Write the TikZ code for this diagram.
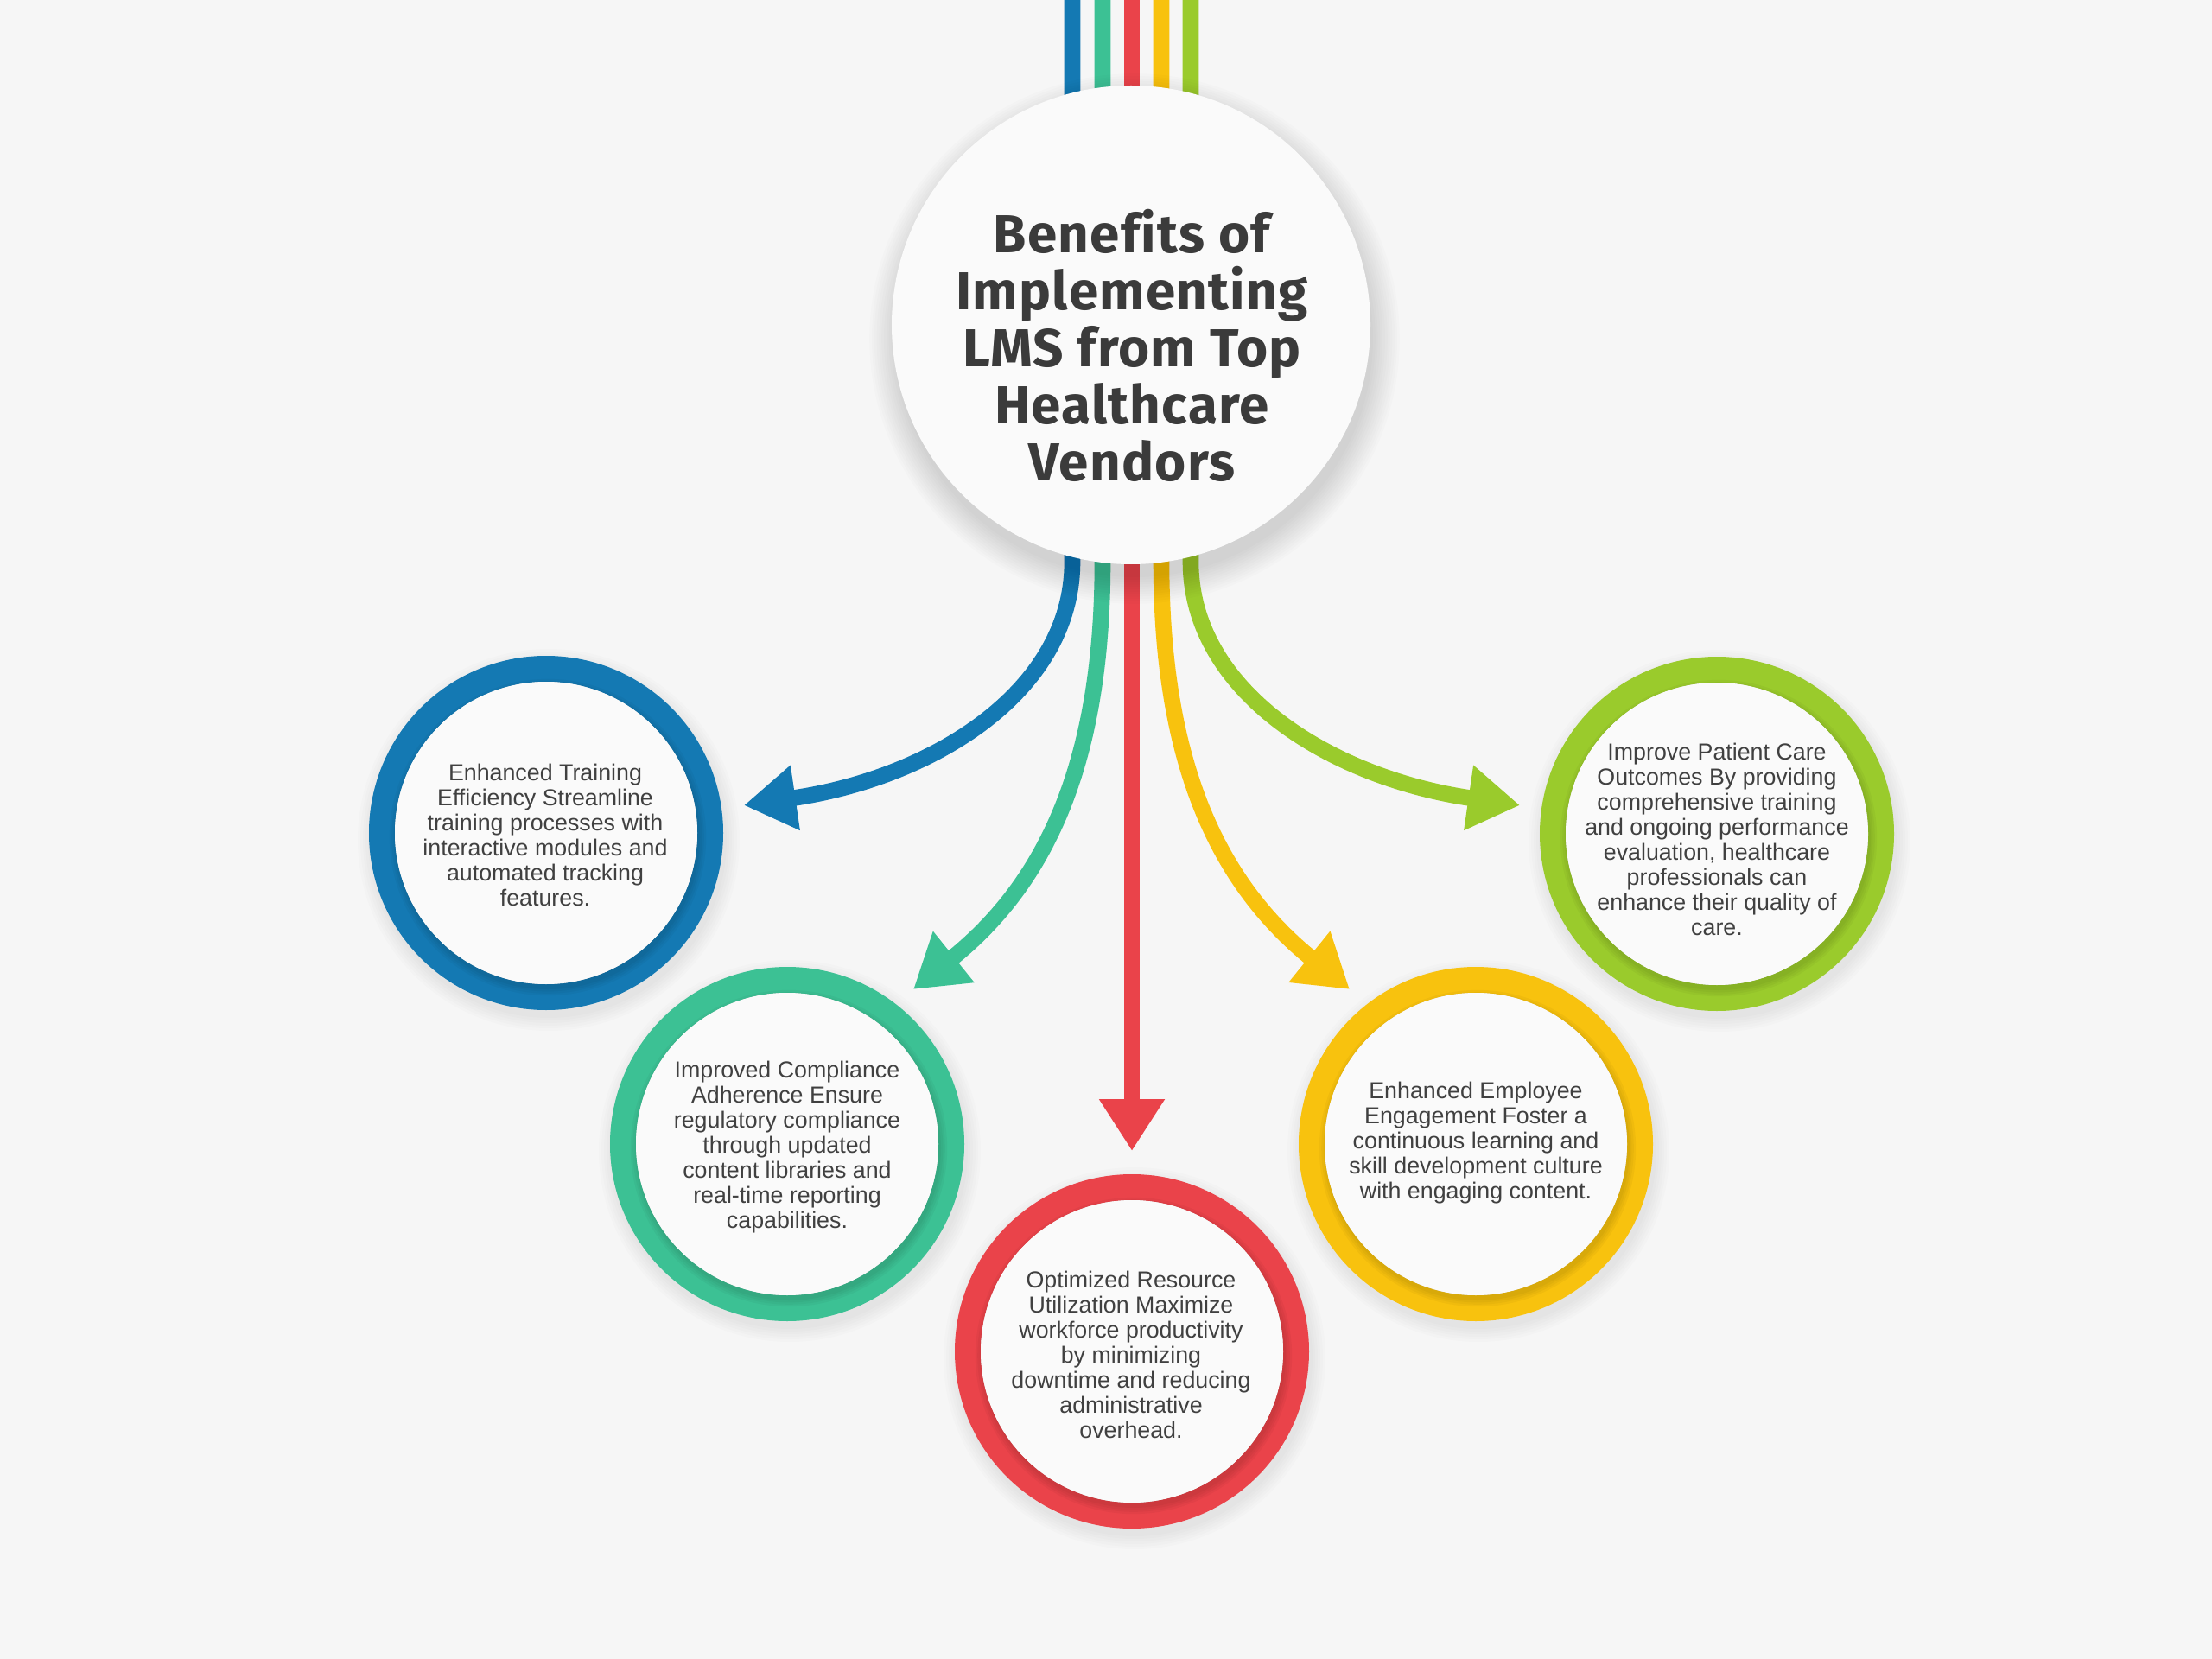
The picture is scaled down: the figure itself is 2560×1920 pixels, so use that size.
\documentclass[tikz,border=0pt]{standalone}
\usepackage{fontspec}
\setmainfont{Liberation Sans}
\newfontfamily\titlefont[Ligatures=CommonOff,LetterSpace=2]{Fira Sans}
\usetikzlibrary{arrows.meta}
\definecolor{bgc}{HTML}{F6F6F6}
\definecolor{inner}{HTML}{FAFAFA}
\definecolor{cblue}{HTML}{1479B3}
\definecolor{cgreen}{HTML}{3CC194}
\definecolor{cred}{HTML}{EA434A}
\definecolor{cyellow}{HTML}{F8C20E}
\definecolor{clime}{HTML}{9ACB2C}
\definecolor{txt}{HTML}{404040}
\definecolor{ttlc}{HTML}{3B3B3B}
\begin{document}
\begin{tikzpicture}[x=0.5pt,y=-0.5pt,
  conn/.style={draw=#1, line width=9.3pt, -{Triangle[length=30pt,width=36pt]}},
  ring/.style={circle, draw=#1, line width=15pt, minimum size=190pt, inner sep=0pt},
  body/.style={align=center, text=txt, font=\fontsize{13.4}{14.5}\selectfont, inner sep=0pt},
  hub/.style={circle, fill=inner, minimum size=277pt, inner sep=0pt},
  hubtitle/.style={align=center, text=ttlc, font=\titlefont\bfseries\fontsize{31}{33}\selectfont, inner sep=0pt}
]
\useasboundingbox (0,0) rectangle (2560,1920);
\fill[bgc] (0,0) rectangle (2560,1920);

% coordinates of the connectors
\coordinate (t1) at (1241,0);  \coordinate (b1) at (1241,650);  \coordinate (e1) at (861,932);
\coordinate (t2) at (1276,0);  \coordinate (b2) at (1276,650);  \coordinate (e2) at (1057,1145);
\coordinate (t3) at (1310,0);  \coordinate (b3) at (1310,650);  \coordinate (e3) at (1310,1332);
\coordinate (t4) at (1344,0);  \coordinate (b4) at (1344,650);  \coordinate (e4) at (1562,1145);
\coordinate (t5) at (1378,0);  \coordinate (b5) at (1378,650);  \coordinate (e5) at (1759,932);

\draw[conn=cblue]   (t1) -- (b1) .. controls (1241,800) and (1080,900) .. (e1);
\draw[conn=cgreen]  (t2) -- (b2) .. controls (1276,900) and (1200,1030) .. (e2);
\draw[conn=cred]    (t3) -- (b3) -- (e3);
\draw[conn=cyellow] (t4) -- (b4) .. controls (1344,900) and (1420,1030) .. (e4);
\draw[conn=clime]   (t5) -- (b5) .. controls (1378,800) and (1540,900) .. (e5);

% hub shadow
\foreach \k in {0,...,11} {
  \pgfmathsetmacro\rr{138+1.4*\k}
  \fill[black, opacity=0.012] (1313,392) circle (\rr pt);
}
\node[hub] (hub) at (1309,376) {};
\node[hubtitle] (title) at (1310,400) {Benefits of\\Implementing\\LMS from Top\\Healthcare\\Vendors};

% ring shadows
\foreach \cx/\cy in {632/964, 911/1324, 1310/1564, 1708/1324, 1987/965} {
  \foreach \k in {0,...,5} {
    \pgfmathsetmacro\rr{103+1.5*\k}
    \fill[black, opacity=0.011] (\cx+3,\cy+8) circle (\rr pt);
  }
}

\node[ring=cblue]   (c1) at (632,964) {};
\node[ring=cgreen]  (c2) at (911,1324) {};
\node[ring=cred]    (c3) at (1310,1564) {};
\node[ring=cyellow] (c4) at (1708,1324) {};
\node[ring=clime]   (c5) at (1987,965) {};

% inner discs with soft shadow
\foreach \n in {c1,c2,c3,c4,c5} {
  \foreach \k in {0,...,3} {
    \pgfmathsetmacro\rr{88+1.2*\k}
    \fill[black, opacity=0.03] ([shift={(2,5)}]\n.center) circle (\rr pt);
  }
  \fill[inner] (\n.center) circle (87.5pt);
}

\node[body] (x1) at (631,966) {Enhanced Training\\Efficiency Streamline\\training processes with\\interactive modules and\\automated tracking\\features.};
\node[body] (x2) at (911,1328) {Improved Compliance\\Adherence Ensure\\regulatory compliance\\through updated\\content libraries and\\real-time reporting\\capabilities.};
\node[body] (x3) at (1309,1568) {Optimized Resource\\Utilization Maximize\\workforce productivity\\by minimizing\\downtime and reducing\\administrative\\overhead.};
\node[body] (x4) at (1708,1323) {Enhanced Employee\\Engagement Foster a\\continuous learning and\\skill development culture\\with engaging content.};
\node[body] (x5) at (1987,971) {Improve Patient Care\\Outcomes By providing\\comprehensive training\\and ongoing performance\\evaluation, healthcare\\professionals can\\enhance their quality of\\care.};
\end{tikzpicture}
\end{document}
